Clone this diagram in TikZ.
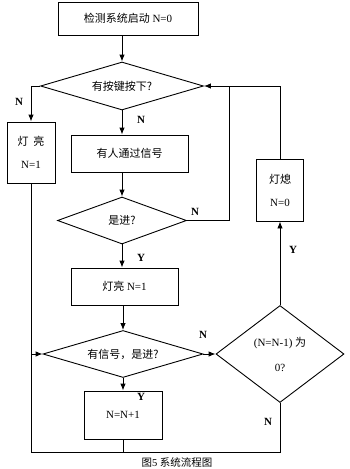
\documentclass[tikz,border=0pt]{standalone}
\usepackage{fontspec}
\setmainfont{Liberation Serif}
\newfontfamily\cjk{Noto Sans CJK SC}
\usetikzlibrary{shapes.geometric,arrows.meta}
\begin{document}
\begin{tikzpicture}[x=1pt,y=-1pt,
 box/.style={draw,line width=0.9pt,rectangle,inner sep=0pt,align=center,font=\fontsize{11}{23}\selectfont},
 dia/.style={draw,line width=0.9pt,diamond,inner sep=0pt,align=center,font=\fontsize{11}{25}\selectfont},
 arr/.style={line width=0.9pt,-{Latex[length=7pt,width=5.5pt]}},
 ln/.style={line width=0.9pt},
 lab/.style={font=\fontsize{11}{13}\selectfont\bfseries}]
\useasboundingbox (0,0) rectangle (350,469);
\node[box,minimum width=140pt,minimum height=33pt] (start) at (128,18.5) {{\cjk 检测系统启动} N=0};
\node[dia,aspect=3.4,minimum width=163pt,minimum height=48pt] (d1) at (122,86) {{\cjk 有按键按下?}};
\node[box,minimum width=48pt,minimum height=61pt] (light1) at (31,152.5) {{\cjk 灯\ \ 亮}\\N=1};
\node[box,minimum width=117pt,minimum height=37pt] (p1) at (129.5,153.5) {{\cjk 有人通过信号}};
\node[dia,aspect=2.74,minimum width=129pt,minimum height=47pt] (d2) at (122,220.5) {{\cjk 是进?}};
\node[box,minimum width=47pt,minimum height=62pt] (off) at (280,190) {{\cjk 灯熄}\\N=0};
\node[box,minimum width=107pt,minimum height=37pt] (light2) at (124.5,286.5) {{\cjk 灯亮} N=1};
\node[dia,aspect=3.4,minimum width=160pt,minimum height=47pt] (d3) at (123,354) {{\cjk 有信号，是进?}};
\node[dia,aspect=1.32,minimum width=128pt,minimum height=97pt] (d4) at (280,354) {(N=N-1)\ {\cjk 为}\\0?};
\node[box,minimum width=78pt,minimum height=48pt] (inc) at (123,415) {N=N+1};
\coordinate (bl) at (31,452);
\coordinate (jx) at (229,0);
\draw[arr] (start.south -| d1.north) -- (d1.north);
\draw[arr] (d1.west) -| (light1.north);
\draw[arr] (d1.south) -- (d1.south |- p1.north);
\draw[arr] (p1.south -| d2.north) -- (d2.north);
\draw[ln] (d2.east) -- (d2.east -| jx) -- (jx |- d1.east);
\draw[arr] (off.north) |- (d1.east);
\draw[arr] (d2.south) -- (d2.south |- light2.north);
\draw[arr] (light2.south -| d3.north) -- (d3.north);
\draw[arr] (d3.east) -- (d4.west);
\draw[arr] (d4.north) -- (off.south);
\draw[arr] (d3.south) -- (inc.north);
\draw[ln] (light1.south) -- (bl) -| (d4.south);
\draw[arr] (bl |- d3.west) -- (d3.west);
\draw[ln] (inc.south) -- (inc.south |- bl);
\node[lab] (l1) at (19,102) {N};
\node[lab] (l2) at (141,120) {N};
\node[lab] (l3) at (195,212) {N};
\node[lab] (l4) at (141,258) {Y};
\node[lab] (l5) at (293,250) {Y};
\node[lab] (l6) at (203,335) {N};
\node[lab] (l7) at (141,397) {Y};
\node[lab] (l8) at (268,422) {N};
\node[font=\fontsize{10.5}{12}\selectfont] (cap) at (177,462) {{\cjk 图}5\ {\cjk 系统流程图}};
\end{tikzpicture}
\end{document}
